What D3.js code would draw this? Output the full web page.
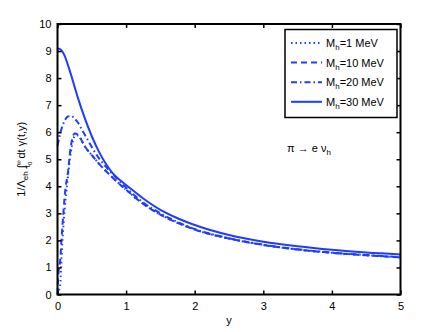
<!DOCTYPE html>
<html>
<head>
<meta charset="utf-8">
<script src="https://cdn.jsdelivr.net/npm/d3@7"></script>
<style>
  body { margin: 0; background: #fff; }
  svg { font-family: "Liberation Sans", Arial, sans-serif; }
</style>
</head>
<body>
<svg width="443" height="332"></svg>
<script>
const WIDTH = 443
const HEIGHT = 332
const BLUE = '#1f3cff'

// values
const xTicks = [0, 1, 2, 3, 4, 5]
const yTicks = [0, 1, 2, 3, 4, 5, 6, 7, 8, 9, 10]

const x1 = [0, 0.02, 0.04, 0.06, 0.08, 0.1, 0.12, 0.15, 0.18, 0.21, 0.25, 0.3, 0.35, 0.4, 0.5, 0.6, 0.75, 1, 1.25, 1.5, 1.75, 2, 2.5, 3, 3.5, 4, 4.5, 5]
const v1 = [0, 0.15, 0.4, 1.4, 2.3, 3.0, 3.6, 4.3, 5.0, 5.5, 5.85, 5.88, 5.7, 5.47, 5.15, 4.85, 4.45, 3.87, 3.35, 2.95, 2.65, 2.4, 2.07, 1.83, 1.66, 1.54, 1.45, 1.37]

const x10 = [0, 0.01, 0.04, 0.06, 0.085, 0.1, 0.12, 0.15, 0.18, 0.21, 0.25, 0.3, 0.35, 0.4, 0.5, 0.6, 0.75, 1, 1.25, 1.5, 1.75, 2, 2.5, 3, 3.5, 4, 4.5, 5]
const v10 = [0, 0.66, 1.28, 2.1, 3.0, 3.5, 4.0, 4.46, 5.2, 5.7, 5.95, 5.9, 5.7, 5.47, 5.15, 4.85, 4.45, 3.87, 3.35, 2.95, 2.65, 2.4, 2.07, 1.83, 1.66, 1.54, 1.45, 1.37]

const x20 = [0, 0.05, 0.1, 0.15, 0.2, 0.25, 0.3, 0.35, 0.4, 0.5, 0.6, 0.75, 1, 1.25, 1.5, 1.75, 2, 2.5, 3, 3.5, 4, 4.5, 5]
const v20 = [5.5, 6.05, 6.4, 6.58, 6.6, 6.5, 6.35, 6.12, 5.9, 5.45, 5.05, 4.6, 3.95, 3.4, 3.0, 2.68, 2.42, 2.08, 1.84, 1.67, 1.55, 1.46, 1.38]

const x30 = [0, 0.05, 0.1, 0.15, 0.2, 0.3, 0.4, 0.5, 0.6, 0.7, 0.8, 0.9, 1, 1.25, 1.5, 1.75, 2, 2.5, 3, 3.5, 4, 4.5, 5]
const v30 = [9.1, 9.05, 8.85, 8.5, 8.1, 7.25, 6.5, 5.85, 5.3, 4.85, 4.5, 4.25, 4.05, 3.55, 3.13, 2.82, 2.57, 2.2, 1.95, 1.78, 1.65, 1.55, 1.48]

const masses = ['1', '10', '20', '30']
const dashes = ['1.5,3', '6,4', '6,3,1.5,3', null]

const series = [[x1, v1], [x10, v10], [x20, v20], [x30, v30]]
    .map(([xs, vs]) => xs.map((d, i) => [d, vs[i]]))

const margin = {left: 57.5, right: 42.5, top: 24, bottom: 37.5}
const svg = d3.select('svg')

const x = d3.scaleLinear().domain([0, 5]).range([margin.left, WIDTH - margin.right])
const y = d3.scaleLinear().domain([0, 10]).range([HEIGHT - margin.bottom, margin.top])

const line = d3.line()
    .x(d => x(d[0]))
    .y(d => y(d[1]))
    .curve(d3.curveMonotoneX)

svg.append('g')
    .selectAll('path')
    .data(series)
    .enter().append('path')
    .attr('d', line)
    .attr('fill', 'none')
    .attr('stroke', BLUE)
    .attr('stroke-width', 2)
    .attr('stroke-dasharray', (d, i) => dashes[i])

// axes, ticks pointing inward on all four sides
const styleAxis = g => {
    g.select('.domain').remove()
    g.selectAll('line').attr('stroke', '#000').attr('stroke-width', 1.5)
    g.selectAll('text').attr('fill', '#000').style('font-size', '11px')
}

svg.append('g')
    .attr('transform', `translate(0,${y(0)})`)
    .call(d3.axisBottom(x).tickValues(xTicks).tickSize(-4).tickPadding(8).tickFormat(d3.format('d')))
    .call(styleAxis)
svg.append('g')
    .attr('transform', `translate(0,${y(10)})`)
    .call(d3.axisTop(x).tickValues(xTicks).tickSize(-4).tickFormat(''))
    .call(styleAxis)
svg.append('g')
    .attr('transform', `translate(${x(0)},0)`)
    .call(d3.axisLeft(y).tickValues(yTicks).tickSize(-4).tickPadding(6).tickFormat(d3.format('d')))
    .call(styleAxis)
svg.append('g')
    .attr('transform', `translate(${x(5)},0)`)
    .call(d3.axisRight(y).tickValues(yTicks).tickSize(-4).tickFormat(''))
    .call(styleAxis)

svg.append('rect')
    .attr('x', x(0)).attr('y', y(10))
    .attr('width', x(5) - x(0)).attr('height', y(0) - y(10))
    .attr('fill', 'none').attr('stroke', '#000').attr('stroke-width', 2)

// axis labels
svg.append('text')
    .attr('x', (x(0) + x(5)) / 2).attr('y', 324)
    .attr('text-anchor', 'middle').style('font-size', '11px')
    .text('y')

const yl = svg.append('text')
    .attr('transform', `translate(25,${(y(0) + y(10)) / 2}) rotate(-90)`)
    .attr('text-anchor', 'middle').style('font-size', '11px')
yl.append('tspan').text('1/Λ')
yl.append('tspan').attr('dy', 3).style('font-size', '8px').text('eh')
yl.append('tspan').attr('dy', -3).text(' ∫')
yl.append('tspan').attr('dy', -4).style('font-size', '7px').text('∞')
yl.append('tspan').attr('dx', -7).attr('dy', 9).style('font-size', '8px').text('t')
yl.append('tspan').attr('dy', 2).style('font-size', '6px').text('0')
yl.append('tspan').attr('dy', -7).text(' dt γ(t,y)')

// annotation
const ann = svg.append('text').attr('x', 287).attr('y', 152).style('font-size', '11px')
ann.append('tspan').text('π → e ν')
ann.append('tspan').attr('dy', 3).style('font-size', '8px').text('h')

// legend
const legend = svg.append('g')
legend.append('rect')
    .attr('x', 285).attr('y', 29.5).attr('width', 112).attr('height', 88)
    .attr('fill', '#fff').attr('stroke', '#000').attr('stroke-width', 1.5)

const entries = legend.selectAll('g.entry')
    .data(masses)
    .enter().append('g')
    .attr('class', 'entry')
    .attr('transform', (d, i) => `translate(0,${43 + i * 19.6})`)

entries.append('line')
    .attr('x1', 291).attr('x2', 322).attr('y1', 0).attr('y2', 0)
    .attr('stroke', BLUE).attr('stroke-width', 2)
    .attr('stroke-dasharray', (d, i) => dashes[i])

const lt = entries.append('text').attr('x', 326).attr('y', 4).style('font-size', '11px')
lt.append('tspan').text('M')
lt.append('tspan').attr('dy', 3).style('font-size', '8px').text('h')
lt.append('tspan').attr('dy', -3).text(d => `=${d} MeV`)
</script>
</body>
</html>
